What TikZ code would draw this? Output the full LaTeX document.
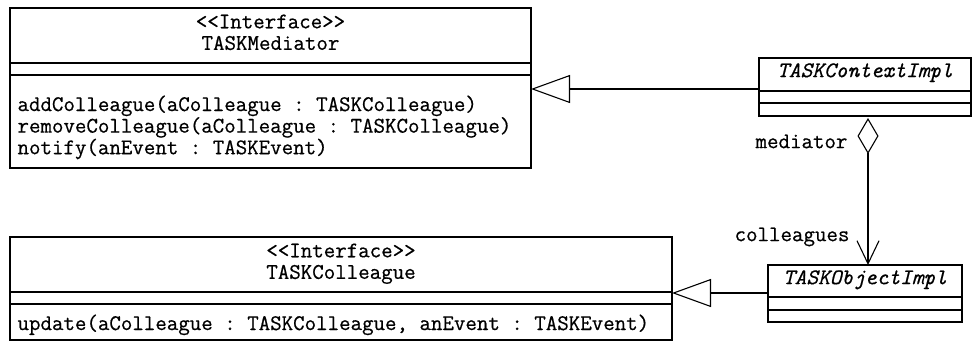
\documentclass[tikz,border=0pt]{standalone}
\usepackage{fontspec}
\setmonofont{Latin Modern Mono}[FakeBold=0.6]
\usetikzlibrary{arrows.meta,calc}
\newcommand\umlfont{\ttfamily\fontsize{22.3}{19.5}\selectfont}
\newcommand\umlheadfont{\ttfamily\fontsize{22.3}{21.5}\selectfont}
\begin{document}
\begin{tikzpicture}[x=1pt,y=-1pt,line width=1.1pt,
  classbox/.style={draw,anchor=north west,inner sep=0pt,outer sep=0pt},
  txt/.style={font=\umlfont,inner sep=0pt,anchor=mid},
  headtxt/.style={font=\umlheadfont,inner sep=0pt,anchor=north,align=center},
  optxt/.style={font=\umlfont,inner sep=0pt,anchor=north west,align=left},
  realize/.style={-{Triangle[open,length=39pt,width=28pt,line width=1.1pt]}},
  aggr/.style={{Diamond[open,length=36pt,width=21pt,line width=1.1pt]}-{Straight Barb[length=23pt,width=22pt,line width=1.1pt]}}]
\useasboundingbox (0,0) rectangle (972,354);

% interface TASKMediator
\node[classbox,minimum width=521pt,minimum height=160pt] (med) at (10,8) {};
\draw ($(med.north west)+(0,55)$) -- ($(med.north east)+(0,55)$);
\draw ($(med.north west)+(0,67)$) -- ($(med.north east)+(0,67)$);
\node[headtxt] (medhead) at ($(med.north)+(0,6)$) {<<Interface>>\\TASKMediator};
\node[optxt] (medops) at ($(med.north west)+(7,87)$)
  {addColleague(aColleague : TASKColleague)\\
   removeColleague(aColleague : TASKColleague)\\
   notify(anEvent : TASKEvent)};

% interface TASKColleague
\node[classbox,minimum width=662pt,minimum height=103pt] (col) at (10,237) {};
\draw ($(col.north west)+(0,55)$) -- ($(col.north east)+(0,55)$);
\draw ($(col.north west)+(0,67)$) -- ($(col.north east)+(0,67)$);
\node[headtxt] (colhead) at ($(col.north)+(0,6)$) {<<Interface>>\\TASKColleague};
\node[optxt] (colops) at ($(col.north west)+(7,77)$)
  {update(aColleague : TASKColleague, anEvent : TASKEvent)};

% class TASKContextImpl
\node[classbox,minimum width=212pt,minimum height=58pt] (ctx) at (759,58) {};
\draw ($(ctx.north west)+(0,33)$) -- ($(ctx.north east)+(0,33)$);
\draw ($(ctx.north west)+(0,45)$) -- ($(ctx.north east)+(0,45)$);
\node[txt] (ctxname) at ($(ctx.north)+(0,17)$) {\itshape TASKContextImpl};

% class TASKObjectImpl
\node[classbox,minimum width=194pt,minimum height=57pt] (obj) at (768,265) {};
\draw ($(obj.north west)+(0,32)$) -- ($(obj.north east)+(0,32)$);
\draw ($(obj.north west)+(0,45)$) -- ($(obj.north east)+(0,45)$);
\node[txt] (objname) at ($(obj.north)+(0,17)$) {\itshape TASKObjectImpl};

% realizations
\coordinate (ctxport) at ($(ctx.north west)+(0,31)$);
\draw[realize] (ctxport) -- (ctxport -| med.east);
\coordinate (objport) at ($(obj.north west)+(0,28)$);
\draw[realize] (objport) -- (objport -| col.east);

% aggregation mediator / colleagues
\coordinate (aggtop) at ($(ctx.south)+(3,2)$);
\draw[aggr] (aggtop) -- (aggtop |- obj.north);
\node[txt,anchor=mid east] (lblmed) at ($(aggtop)+(-20,28)$) {mediator};
\node[txt,anchor=mid east] (lblcol) at ($(obj.north)+(-15,-26)$) {colleagues};
\end{tikzpicture}
\end{document}
